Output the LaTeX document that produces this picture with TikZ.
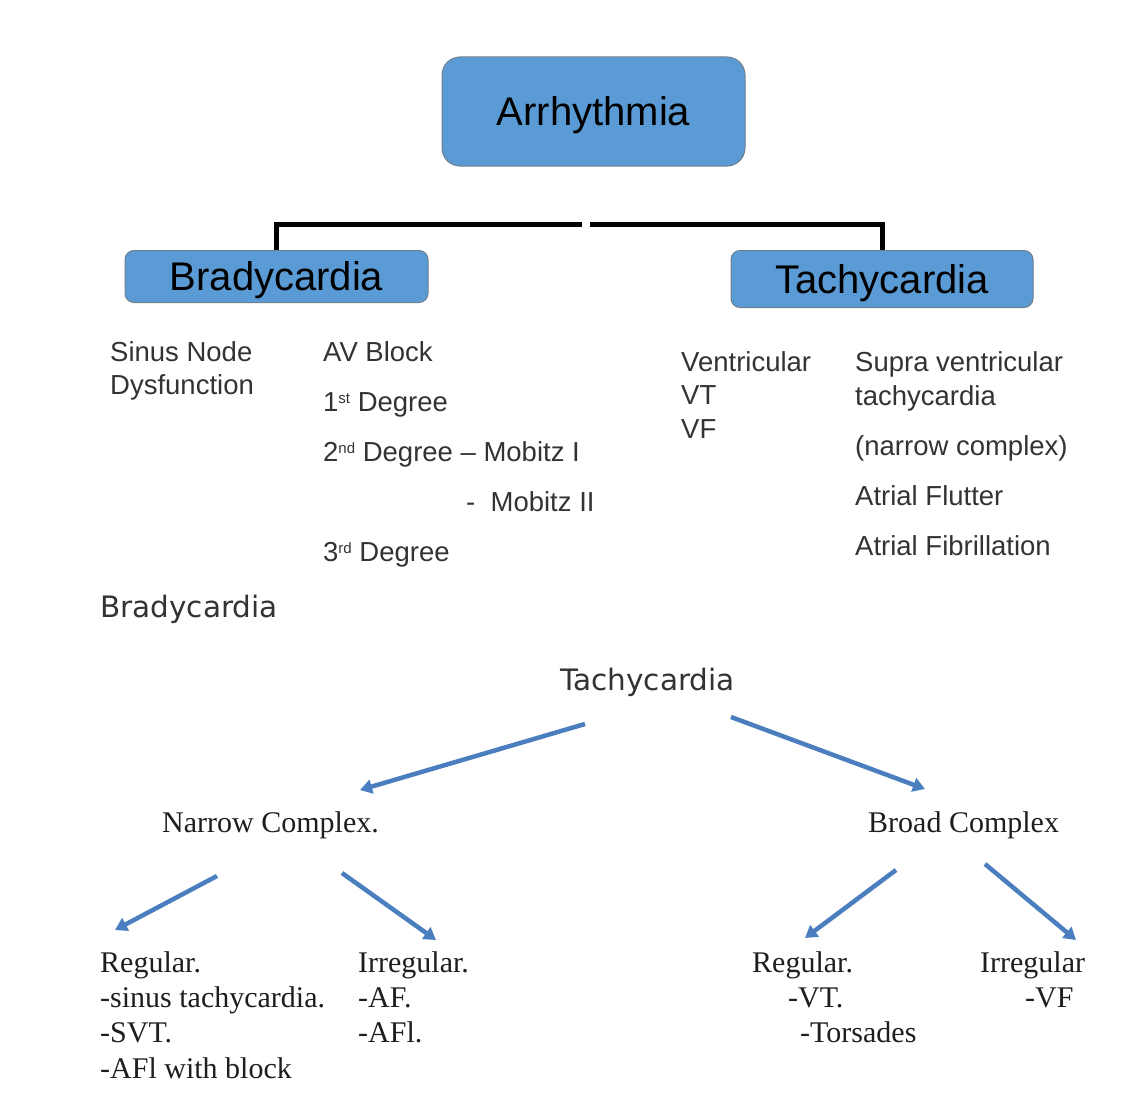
\documentclass[tikz,border=0pt]{standalone}
\usepackage{fontspec}
\setmainfont{Liberation Sans}
\newfontfamily\serifface{Liberation Serif}
\newfontfamily\verdface{DejaVu Sans}
\usetikzlibrary{arrows.meta}
\definecolor{boxblue}{HTML}{5B9BD5}
\definecolor{boxline}{HTML}{6F7F8F}
\definecolor{arrblue}{HTML}{4A7EBF}
\definecolor{txtgray}{HTML}{333333}
\definecolor{txtdark}{HTML}{1E1E1E}
\newcommand{\mysup}[1]{\raisebox{8pt}{\fontsize{15}{16}\selectfont #1}}
\tikzset{
  bluebox/.style={draw=boxline, line width=1pt, fill=boxblue, inner sep=0pt,
    font=\fontsize{40}{44}\selectfont, text=black, text height=28.6pt, text depth=0pt},
  item/.style={anchor=base west, inner sep=0pt, text=txtgray, font=\fontsize{27.5}{30}\selectfont},
  heading/.style={anchor=base west, inner sep=0pt, text=txtgray, font=\verdface\fontsize{29.5}{32}\selectfont},
  serif/.style={anchor=base west, inner sep=0pt, text=txtdark, font=\serifface\fontsize{30}{33}\selectfont},
  tree/.style={line width=5pt, black},
  bluearrow/.style={line width=4.5pt, arrblue, -{Triangle[length=12pt,width=14pt]}}
}
\begin{document}
\begin{tikzpicture}[x=1pt,y=-1pt]
\useasboundingbox[fill=white] (0,0) rectangle (1128,1116);

% top boxes
\node[bluebox, rounded corners=18pt, minimum width=303pt, minimum height=109pt] (arr) at (593.5,111.5) {Arrhythmia};
\node[bluebox, rounded corners=9pt, minimum width=303pt, minimum height=52pt] (brady) at (276.5,276.5) {Bradycardia};
\node[bluebox, rounded corners=9pt, minimum width=302pt, minimum height=57pt] (tachy) at (882,279) {Tachycardia};

% bracket connectors
\coordinate (jl) at (582,224);
\coordinate (jr) at (590,224);
\draw[tree] (brady.north) |- (jl);
\draw[tree] (tachy.north) |- (jr);

% bradycardia items
\node[item] (sn1) at (110,361) {Sinus Node};
\node[item] (sn2) at (110,394) {Dysfunction};
\node[item] (av) at (323,361) {AV Block};
\node[item] (d1) at (323,411) {1\mysup{st} Degree};
\node[item] (d2) at (323,461) {2\mysup{nd} Degree -- Mobitz I};
\node[item] (d2b) at (466,511) {-\ \ Mobitz II};
\node[item] (d3) at (323,561) {3\mysup{rd} Degree};

% tachycardia items
\node[item] (v1) at (681,371) {Ventricular};
\node[item] (v2) at (681,404) {VT};
\node[item] (v3) at (681,438) {VF};
\node[item] (s1) at (855,371) {Supra ventricular};
\node[item] (s2) at (855,405) {tachycardia};
\node[item] (s3) at (855,455) {(narrow complex)};
\node[item] (s4) at (855,505) {Atrial Flutter};
\node[item] (s5) at (855,555) {Atrial Fibrillation};

% headings
\node[heading] (bh) at (100,617) {Bradycardia};
\node[heading] (th) at (560,690) {Tachycardia};

% second tree
\node[serif] (nc) at (162,832) {Narrow Complex.};
\node[serif] (bc) at (868,832) {Broad Complex};

\node[serif] (r1) at (100,972) {Regular.};
\node[serif] (r2) at (100,1007) {-sinus tachycardia.};
\node[serif] (r3) at (100,1042) {-SVT.};
\node[serif] (r4) at (100,1078) {-AFl with block};

\node[serif] (i1) at (358,972) {Irregular.};
\node[serif] (i2) at (358,1007) {-AF.};
\node[serif] (i3) at (358,1042) {-AFl.};

\node[serif] (br1) at (752,972) {Regular.};
\node[serif] (br2) at (788,1007) {-VT.};
\node[serif] (br3) at (800,1042) {-Torsades};

\node[serif] (bi1) at (980,972) {Irregular};
\node[serif] (bi2) at (1025,1007) {-VF};

% arrows
\coordinate (a1s) at (585,724); \coordinate (a1e) at (360,790);
\coordinate (a2s) at (731,717); \coordinate (a2e) at (925,789);
\coordinate (a3s) at (217,876); \coordinate (a3e) at (115,930);
\coordinate (a4s) at (342,873); \coordinate (a4e) at (436,940);
\coordinate (a5s) at (896,870); \coordinate (a5e) at (805,938);
\coordinate (a6s) at (985,864); \coordinate (a6e) at (1076,940);
\draw[bluearrow] (a1s) -- (a1e);
\draw[bluearrow] (a2s) -- (a2e);
\draw[bluearrow] (a3s) -- (a3e);
\draw[bluearrow] (a4s) -- (a4e);
\draw[bluearrow] (a5s) -- (a5e);
\draw[bluearrow] (a6s) -- (a6e);
\end{tikzpicture}
\end{document}
